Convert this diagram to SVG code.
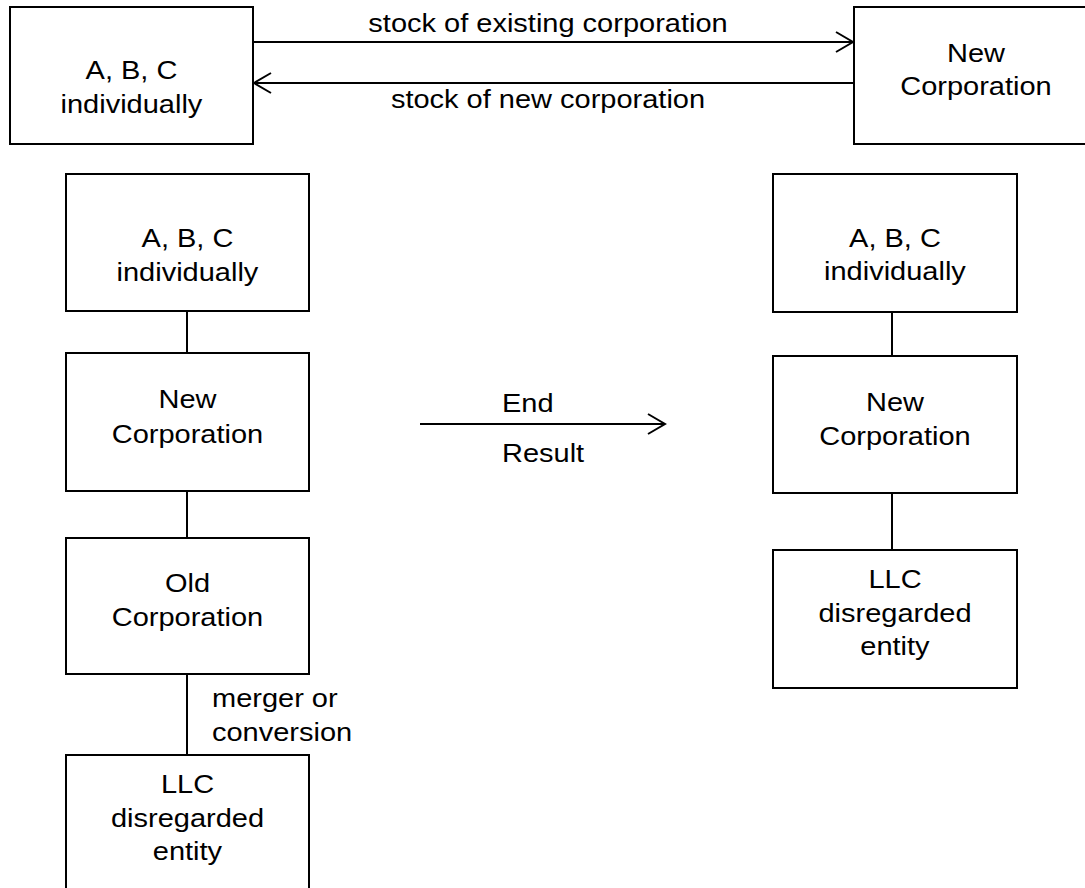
<svg xmlns="http://www.w3.org/2000/svg" width="1085" height="888" viewBox="0 0 1085 888">
<style>
.box{fill:#fff;stroke:#000;stroke-width:2}
.ln{fill:none;stroke:#000;stroke-width:2}
text{font-family:"Liberation Sans",Arial,sans-serif;font-size:25px;fill:#000;transform-box:fill-box;transform-origin:center;transform:scaleX(1.16)}
.c{text-anchor:middle}
</style>
<defs>
<marker id="open" markerUnits="userSpaceOnUse" markerWidth="24" markerHeight="24" refX="18" refY="11" orient="auto">
<path d="M1,1 L18,11 L1,21" fill="none" stroke="#000" stroke-width="2"/>
</marker>
</defs>
<rect width="1085" height="888" fill="#fff"/>
<g id="connectors">
<line class="ln" x1="253" y1="42" x2="853" y2="42" marker-end="url(#open)"/>
<line class="ln" x1="854" y1="83" x2="254" y2="83" marker-end="url(#open)"/>
<line class="ln" x1="420" y1="424" x2="665" y2="424" marker-end="url(#open)"/>
<line class="ln" x1="187" y1="311" x2="187" y2="353"/>
<line class="ln" x1="187" y1="491" x2="187" y2="538"/>
<line class="ln" x1="187" y1="674" x2="187" y2="755"/>
<line class="ln" x1="892" y1="312" x2="892" y2="356"/>
<line class="ln" x1="892" y1="493" x2="892" y2="550"/>
<text class="c" x="548" y="32">stock of existing corporation</text>
<text class="c" x="548" y="108">stock of new corporation</text>
<text x="502" y="412" style="transform-origin:left center">End</text>
<text x="502" y="462" style="transform-origin:left center">Result</text>
<text x="212" y="707" style="transform-origin:left center">merger or</text>
<text x="212" y="741" style="transform-origin:left center">conversion</text>
</g>
<g id="top-abc">
<rect class="box" x="10" y="7" width="243" height="137"/>
<text class="c" x="131.5" y="79">A, B, C</text>
<text class="c" x="131.5" y="113">individually</text>
</g>
<g id="top-newcorp">
<rect class="box" x="854" y="7" width="243" height="137"/>
<text class="c" x="976" y="62">New</text>
<text class="c" x="976" y="95">Corporation</text>
</g>
<g id="left-abc">
<rect class="box" x="66" y="174" width="243" height="137"/>
<text class="c" x="187.5" y="247">A, B, C</text>
<text class="c" x="187.5" y="281">individually</text>
</g>
<g id="left-newcorp">
<rect class="box" x="66" y="353" width="243" height="138"/>
<text class="c" x="187.5" y="408">New</text>
<text class="c" x="187.5" y="443">Corporation</text>
</g>
<g id="left-oldcorp">
<rect class="box" x="66" y="538" width="243" height="136"/>
<text class="c" x="187.5" y="592">Old</text>
<text class="c" x="187.5" y="626">Corporation</text>
</g>
<g id="left-llc">
<rect class="box" x="66" y="755" width="243" height="140"/>
<text class="c" x="187.5" y="793">LLC</text>
<text class="c" x="187.5" y="827">disregarded</text>
<text class="c" x="187.5" y="860">entity</text>
</g>
<g id="right-abc">
<rect class="box" x="773" y="174" width="244" height="138"/>
<text class="c" x="895" y="247">A, B, C</text>
<text class="c" x="895" y="280">individually</text>
</g>
<g id="right-newcorp">
<rect class="box" x="773" y="356" width="244" height="137"/>
<text class="c" x="895" y="411">New</text>
<text class="c" x="895" y="445">Corporation</text>
</g>
<g id="right-llc">
<rect class="box" x="773" y="550" width="244" height="138"/>
<text class="c" x="895" y="588">LLC</text>
<text class="c" x="895" y="622">disregarded</text>
<text class="c" x="895" y="655">entity</text>
</g>
</svg>
